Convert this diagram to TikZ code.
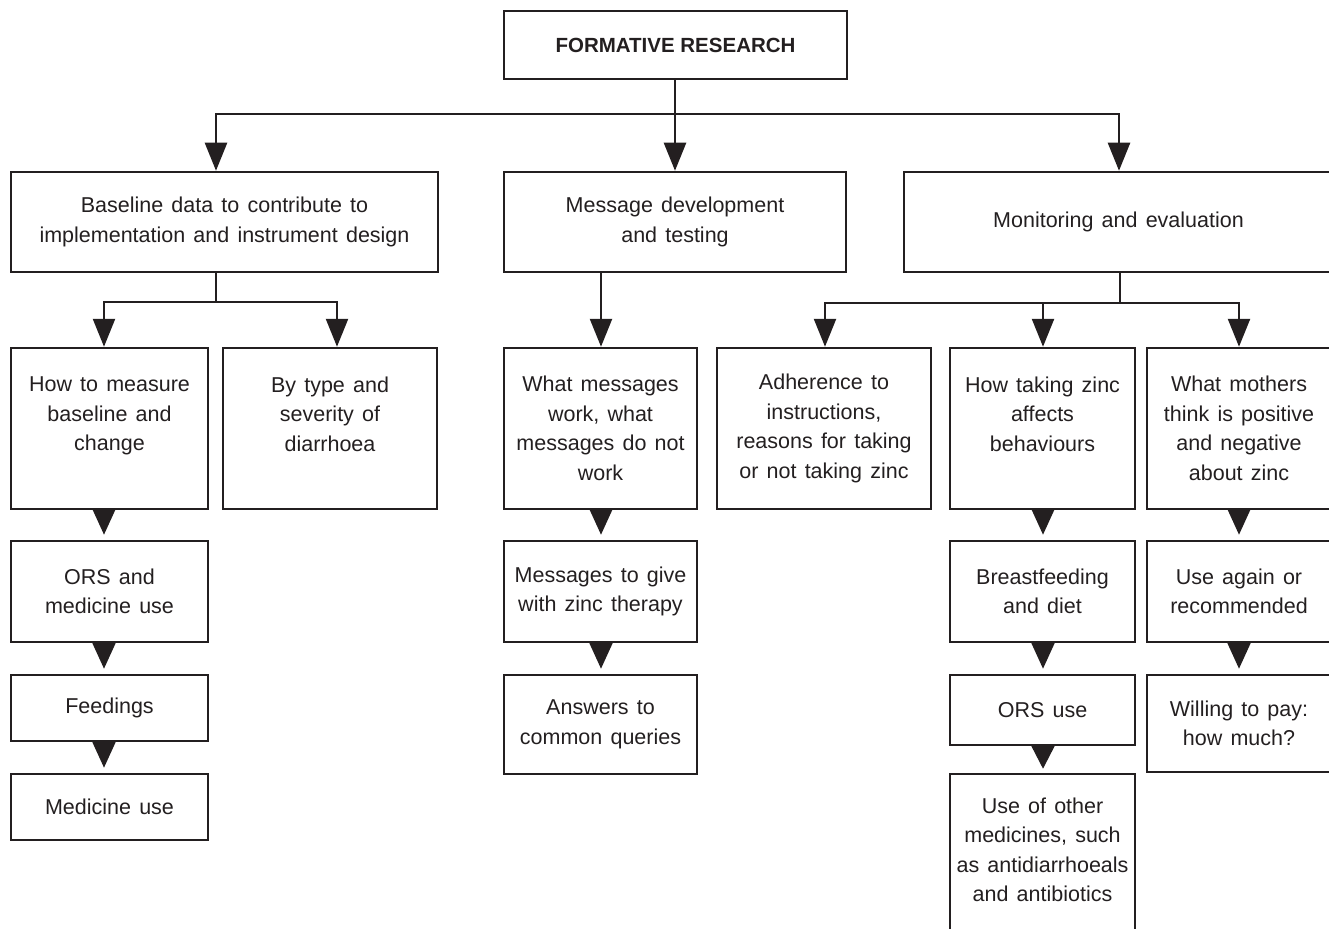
\documentclass[tikz,border=0pt]{standalone}
\usepackage{fontspec}
\setmainfont{Liberation Sans}
\usetikzlibrary{arrows.meta}
\definecolor{ink}{HTML}{231F20}
\newcommand{\boxfont}{\fontsize{21.5}{29.5}\selectfont\spaceskip 0.38em\relax}
\begin{document}
\begin{tikzpicture}[x=1pt,y=-1pt,
  txt/.style={text=ink, align=center, inner sep=0pt, font=\boxfont},
  box/.style={txt, draw=ink, line width=2.5pt},
  conn/.style={draw=ink, line width=2.5pt},
  arr/.style={conn, -{Triangle[length=28pt,width=22pt]}},
  stk/.style={conn, -{Triangle[length=26pt,width=23pt]}, shorten >=5pt},
  stkshort/.style={conn, -{Triangle[length=23pt,width=23pt]}, shorten >=4pt},
]
\useasboundingbox (0,0) rectangle (1329,928);
\clip (0,0) rectangle (1329,928);

% column coordinates
\coordinate (xb) at (216,0);
\coordinate (xm) at (1119,0);
\coordinate (cA) at (104,0);
\coordinate (cB) at (337,0);
\coordinate (cC) at (601,0);
\coordinate (cD) at (825,0);
\coordinate (cE) at (1043,0);
\coordinate (cF) at (1239,0);

% level 1
\node[box, minimum width=343pt, minimum height=68pt,
  font=\fontsize{20.5}{24}\selectfont\bfseries] (top) at (675.5,45) {FORMATIVE RESEARCH};

% level 2
\node[box, minimum width=427pt, minimum height=100pt] (base) at (224.5,222)
  {Baseline data to contribute to\\implementation and instrument design};
\node[box, minimum width=342pt, minimum height=100pt] (msg) at (675,222)
  {Message development\\and testing};
\node[box, minimum width=429pt, minimum height=100pt] (mon) at (1118.5,222)
  {Monitoring and evaluation};

% level 3
\node[box, minimum width=197pt, minimum height=161pt] (how) at (109.5,428.5)
  {How to measure\\baseline and\\change\\~};
\node[box, minimum width=214pt, minimum height=161pt] (bytype) at (330,428.5)
  {By type and\\severity of\\diarrhoea\\~};
\node[box, minimum width=193pt, minimum height=161pt] (what) at (600.5,428.5)
  {What messages\\work, what\\messages do not\\work};
\node[box, minimum width=214pt, minimum height=161pt] (adh) at (824,428.5)
  {Adherence to\\instructions,\\reasons for taking\\or not taking zinc};
\node[box, minimum width=185pt, minimum height=161pt] (zinc) at (1042.5,428.5)
  {How taking zinc\\affects\\behaviours\\~};
\node[box, minimum width=184pt, minimum height=161pt] (moth) at (1239,428.5)
  {What mothers\\think is positive\\and negative\\about zinc};

% level 4
\node[box, minimum width=197pt, minimum height=101pt] (ors1) at (109.5,591.5)
  {ORS and\\medicine use};
\node[box, minimum width=193pt, minimum height=101pt] (give) at (600.5,591.5)
  {Messages to give\\with zinc therapy};
\node[box, minimum width=185pt, minimum height=101pt] (breast) at (1042.5,591.5)
  {Breastfeeding\\and diet};
\node[box, minimum width=184pt, minimum height=101pt] (again) at (1239,591.5)
  {Use again or\\recommended};

% level 5
\node[box, minimum width=197pt, minimum height=66pt] (feed) at (109.5,708)
  {Feedings};
\node[box, minimum width=193pt, minimum height=99pt] (ans) at (600.5,724.5)
  {Answers to\\common queries};
\node[box, minimum width=185pt, minimum height=70pt] (ors2) at (1042.5,710)
  {ORS use};
\node[box, minimum width=184pt, minimum height=97pt] (pay) at (1239,723.5)
  {Willing to pay:\\how much?};

% level 6
\node[box, minimum width=197pt, minimum height=66pt] (med) at (109.5,807)
  {Medicine use};
\node[box, minimum width=185pt, minimum height=176pt] (other) at (1042.5,862) {};
\node[txt] (othertxt) at (1042.5,850)
  {Use of other\\medicines, such\\as antidiarrhoeals\\and antibiotics};

% connectors from the top
\coordinate (j0) at (675,114);
\draw[conn] (top.south -| j0) -- (j0);
\draw[arr] (j0) -| (base.north -| xb);
\draw[arr] (j0) -- (msg.north -| j0);
\draw[arr] (j0) -| (mon.north -| xm);

% baseline branch
\coordinate (j1) at (216,302);
\draw[conn] (base.south -| j1) -- (j1);
\draw[arr] (j1) -| (how.north -| cA);
\draw[arr] (j1) -| (bytype.north -| cB);

% message branch
\draw[arr] (msg.south -| cC) -- (what.north -| cC);

% monitoring branch
\coordinate (j2) at (1120,303);
\draw[conn] (mon.south -| j2) -- (j2);
\draw[arr] (j2) -| (adh.north -| cD);
\draw[arr] (j2) -| (zinc.north -| cE);
\draw[arr] (j2) -| (moth.north -| cF);

% stacked arrows
\draw[stk] (how.south -| cA) -- (ors1.north -| cA);
\draw[stk] (ors1.south -| cA) -- (feed.north -| cA);
\draw[stk] (feed.south -| cA) -- (med.north -| cA);
\draw[stk] (what.south -| cC) -- (give.north -| cC);
\draw[stk] (give.south -| cC) -- (ans.north -| cC);
\draw[stk] (zinc.south -| cE) -- (breast.north -| cE);
\draw[stk] (breast.south -| cE) -- (ors2.north -| cE);
\draw[stkshort] (ors2.south -| cE) -- (other.north -| cE);
\draw[stk] (moth.south -| cF) -- (again.north -| cF);
\draw[stk] (again.south -| cF) -- (pay.north -| cF);
\end{tikzpicture}
\end{document}
